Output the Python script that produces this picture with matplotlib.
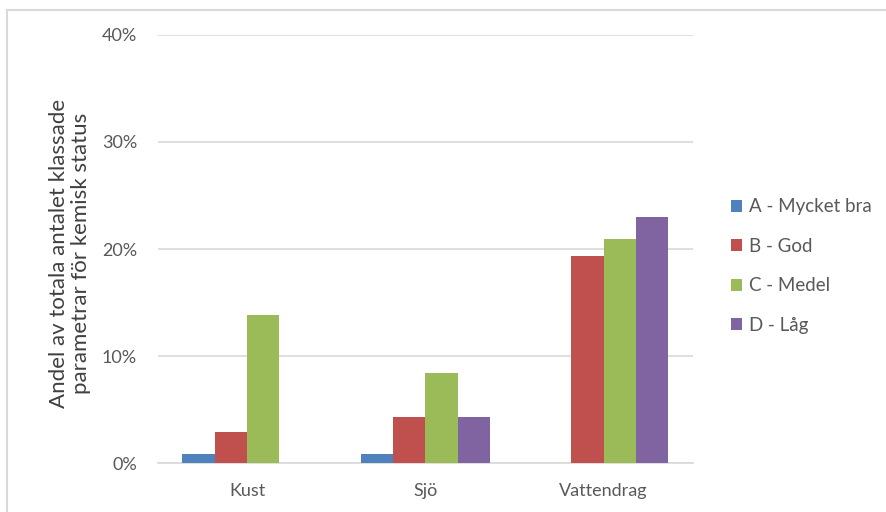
import matplotlib.pyplot as plt
import numpy as np

plt.rcParams['font.family'] = ['Lato', 'DejaVu Sans']

categories = ['Kust', 'Sjö', 'Vattendrag']
series = ['A - Mycket bra', 'B - God', 'C - Medel', 'D - Låg']
a_vals = [0.9, 0.85, 0.0]
b_vals = [2.9, 4.35, 19.35]
c_vals = [13.85, 8.4, 20.95]
d_vals = [0.0, 4.35, 22.95]
colors = ['#4F81BD', '#C0504D', '#9BBB59', '#8064A2']
yticks = [0, 10, 20, 30, 40]

fig = plt.figure(figsize=(8.87, 5.12), dpi=100)
ax = fig.add_axes([0.178, 0.095, 0.603, 0.837])

x = np.arange(len(categories))
w = 0.727 / 4
for i, vals in enumerate([a_vals, b_vals, c_vals, d_vals]):
    ax.bar(x + (i - 1.5) * w, vals, w, color=colors[i], label=series[i], zorder=3)

ax.set_xlim(-0.5, 2.5)
ax.set_ylim(0, 40)
ax.set_yticks(yticks)
ax.set_yticklabels([f'{t}%' for t in yticks])
ax.set_xticks(x)
ax.set_xticklabels(categories)
ax.tick_params(length=0, colors='#595959', labelsize=13)
ax.tick_params(axis='y', pad=15)
ax.tick_params(axis='x', pad=14)
ax.yaxis.grid(True, color='#D9D9D9', linewidth=1.2, zorder=0)
for s in ['top', 'right', 'left']:
    ax.spines[s].set_visible(False)
ax.spines['bottom'].set_color('#D9D9D9')
ax.spines['bottom'].set_linewidth(1.2)

fig.text(70 / 887, 1 - 253 / 512,
         'Andel av totala antalet klassade\nparametrar för kemisk status',
         rotation=90, ha='center', va='center', fontsize=16,
         color='#404040', linespacing=1.15)

leg = ax.legend(loc='center left', bbox_to_anchor=(1.04, 0.46), frameon=False,
                fontsize=13.5, handlelength=0.6, handleheight=0.6,
                handletextpad=0.35, labelspacing=1.2)
for t in leg.get_texts():
    t.set_color('#595959')

# chart frame
fig.add_artist(plt.Line2D([7 / 887, 7 / 887], [0, 1 - 10 / 512], color='#D9D9D9', lw=1.5))
fig.add_artist(plt.Line2D([7 / 887, 1], [1 - 10 / 512, 1 - 10 / 512], color='#D9D9D9', lw=1.5))

fig.savefig('out.png', dpi=100)
